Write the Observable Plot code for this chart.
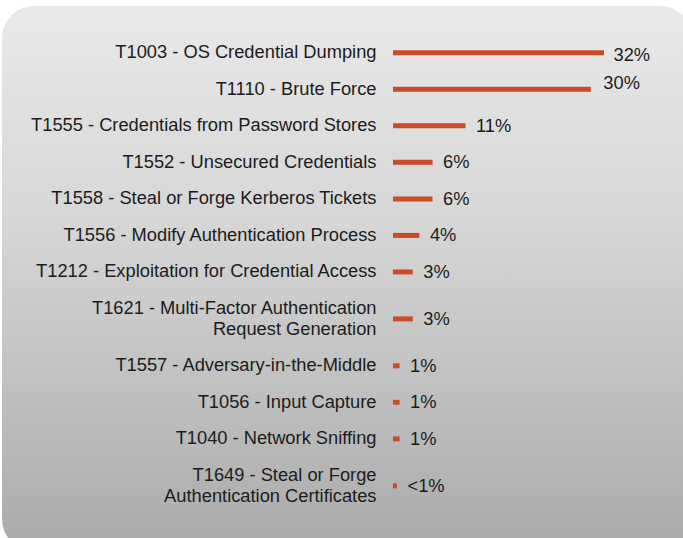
<!DOCTYPE html>
<html>
<head>
<meta charset="utf-8">
<script src="https://cdn.jsdelivr.net/npm/d3@7"></script>
<script src="https://cdn.jsdelivr.net/npm/@observablehq/plot@0.6"></script>
<style>
  html, body { margin: 0; padding: 0; background: #ffffff; }
  #wrap { position: relative; width: 683px; height: 538px; overflow: hidden; }
  #bg { position: absolute; left: 2px; top: 6px; width: 690px; height: 545px;
        border-radius: 32px;
        background: linear-gradient(to bottom, #e9e9e9 0%, #d6d6d6 40%, #aaaaaa 100%); }
  #chart { position: absolute; left: 0; top: 0; }
</style>
</head>
<body>
<div id="wrap"><div id="bg"></div><div id="chart"></div></div>
<script>
const codes = ["T1003", "T1110", "T1555", "T1552", "T1558", "T1556", "T1212", "T1621", "T1557", "T1056", "T1040", "T1649"];
const names = [
  "OS Credential Dumping",
  "Brute Force",
  "Credentials from Password Stores",
  "Unsecured Credentials",
  "Steal or Forge Kerberos Tickets",
  "Modify Authentication Process",
  "Exploitation for Credential Access",
  "Multi-Factor Authentication\nRequest Generation",
  "Adversary-in-the-Middle",
  "Input Capture",
  "Network Sniffing",
  "Steal or Forge\nAuthentication Certificates"
];
const values = [32, 30, 11, 6, 6, 4, 3, 3, 1, 1, 1, 0.6];
const valueLabels = ["32%", "30%", "11%", "6%", "6%", "4%", "3%", "3%", "1%", "1%", "1%", "<1%"];

// layout rows: each extra text line adds part of a row height
let cursor = 0;
const data = codes.map((c, i) => {
  const label = c + " - " + names[i];
  const lines = label.split("\n").length;
  const h = 1 + 0.57 * (lines - 1);
  const pos = cursor + h / 2;
  cursor += h;
  return {code: c, label, value: values[i], vlabel: valueLabels[i], pos};
});
const total = cursor;

const font = "'Liberation Sans', Arial, Helvetica, sans-serif";
const ink = "#1c1c1c";
const barColor = "#cb4a29";

const chart = Plot.plot({
  width: 683,
  height: 538,
  marginLeft: 393,
  marginRight: 79,
  marginTop: 34,
  marginBottom: 24,
  style: {background: "transparent", overflow: "visible"},
  x: {domain: [0, 32], axis: null},
  y: {domain: [0, total], reverse: true, axis: null},
  marks: [
    Plot.ruleY(data, {y: "pos", x1: 0, x2: "value", stroke: barColor, strokeWidth: 5}),
    Plot.text(data, {y: "pos", x: 0, text: "label", textAnchor: "end", dx: -17, dy: -1.5,
      fontSize: 18.3, fontFamily: font, fill: ink, lineHeight: 1.15}),
    Plot.text(data, {filter: d => d.code !== "T1003" && d.code !== "T1110",
      y: "pos", x: "value", text: "vlabel", textAnchor: "start", dx: 10, dy: 0,
      fontSize: 18.3, fontFamily: font, fill: ink}),
    Plot.text(data, {filter: d => d.code === "T1003",
      y: "pos", x: "value", text: "vlabel", textAnchor: "start", dx: 9, dy: 2,
      fontSize: 18.3, fontFamily: font, fill: ink}),
    Plot.text(data, {filter: d => d.code === "T1110",
      y: "pos", x: "value", text: "vlabel", textAnchor: "start", dx: 12, dy: -6,
      fontSize: 18.3, fontFamily: font, fill: ink})
  ]
});
document.getElementById("chart").appendChild(chart);
</script>
</body>
</html>
